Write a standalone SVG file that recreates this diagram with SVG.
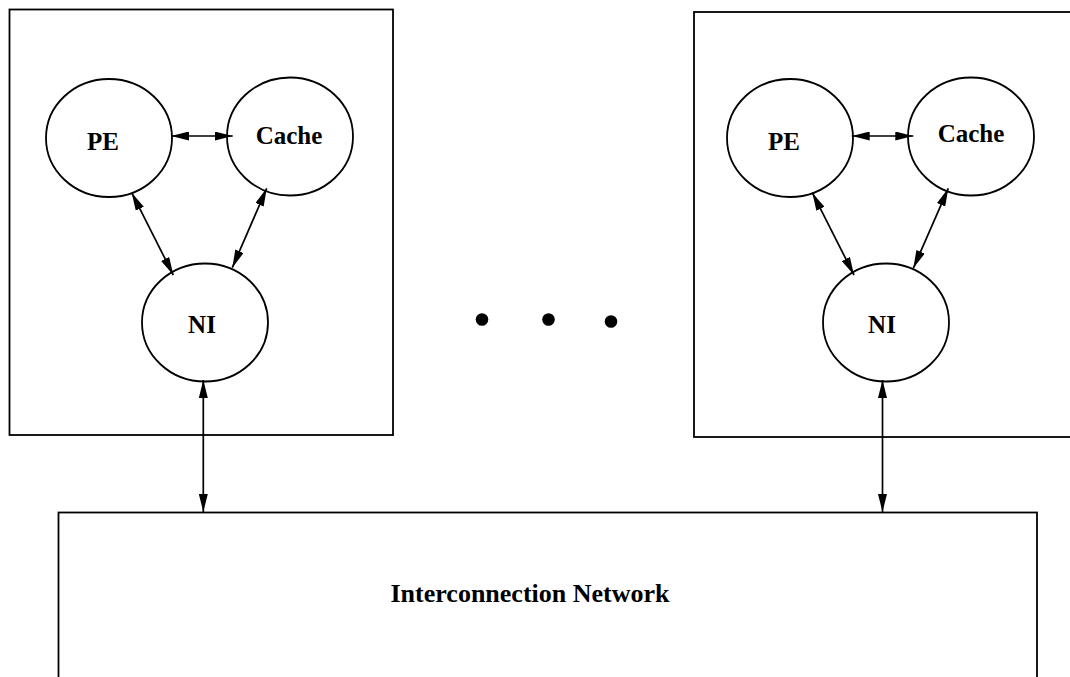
<svg xmlns="http://www.w3.org/2000/svg" width="1070" height="677" viewBox="0 0 1070 677">
  <defs>
    <style>
      .box { fill: none; stroke: #000; stroke-width: 1.8; }
      .node { fill: #fff; stroke: #000; stroke-width: 1.8; }
      .lbl { font-family: "Liberation Serif", "Times New Roman", serif; font-weight: bold; font-size: 25px; fill: #000; text-anchor: middle; }
      .big { font-size: 26px; }
      .link { stroke: #000; stroke-width: 1.7; fill: none; marker-start: url(#arrow); marker-end: url(#arrow); }
    </style>
    <marker id="arrow" viewBox="0 0 18 9" refX="18" refY="4.5" markerWidth="18" markerHeight="9" markerUnits="userSpaceOnUse" orient="auto-start-reverse">
      <path d="M0,0 L18,4.5 L0,9 z" fill="#000"/>
    </marker>
  </defs>
  <rect width="1070" height="677" fill="#fff"/>

  <!-- processing node 1 -->
  <g id="node1">
    <rect class="box" x="9.5" y="9.5" width="383.5" height="425.5"/>
    <g id="pe1">
      <ellipse class="node" cx="109" cy="138" rx="63" ry="59"/>
      <text class="lbl" x="103" y="150">PE</text>
    </g>
    <g id="cache1">
      <ellipse class="node" cx="290" cy="136.5" rx="63" ry="59"/>
      <text class="lbl" x="289" y="144">Cache</text>
    </g>
    <g id="ni1">
      <ellipse class="node" cx="205" cy="322.5" rx="63" ry="59"/>
      <text class="lbl" x="202" y="333">NI</text>
    </g>
  </g>

  <!-- processing node n -->
  <g id="node2">
    <rect class="box" x="694" y="12" width="390" height="425"/>
    <g id="pe2">
      <ellipse class="node" cx="790" cy="138" rx="63" ry="59"/>
      <text class="lbl" x="784" y="150">PE</text>
    </g>
    <g id="cache2">
      <ellipse class="node" cx="971" cy="136.5" rx="63" ry="59"/>
      <text class="lbl" x="971" y="142">Cache</text>
    </g>
    <g id="ni2">
      <ellipse class="node" cx="886" cy="322.5" rx="63" ry="59"/>
      <text class="lbl" x="882" y="333">NI</text>
    </g>
  </g>

  <!-- interconnection network -->
  <g id="network">
    <rect class="box" x="58.5" y="512.5" width="978.5" height="180"/>
    <text class="lbl big" x="530" y="602">Interconnection Network</text>
  </g>

  <!-- ellipsis between nodes -->
  <g id="ellipsis" fill="#000">
    <circle cx="482" cy="319.5" r="6.3"/>
    <circle cx="548.5" cy="319.5" r="6.3"/>
    <circle cx="611" cy="321.5" r="6.3"/>
  </g>

  <!-- bidirectional links -->
  <g id="connectors">
    <line class="link" x1="171" y1="136" x2="232.7" y2="136"/>
    <line class="link" x1="131.7" y1="192.7" x2="173.3" y2="275"/>
    <line class="link" x1="266.7" y1="188.3" x2="232.3" y2="267.7"/>
    <line class="link" x1="203.3" y1="380" x2="203.3" y2="512"/>

    <line class="link" x1="851.7" y1="136" x2="913.3" y2="136"/>
    <line class="link" x1="812.3" y1="192.7" x2="854" y2="275"/>
    <line class="link" x1="948.3" y1="188.3" x2="913.3" y2="268.3"/>
    <line class="link" x1="882.5" y1="380" x2="882.5" y2="512"/>
  </g>
</svg>
